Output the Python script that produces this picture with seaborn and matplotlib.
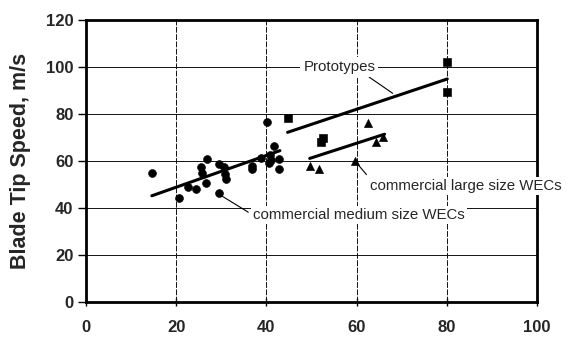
import matplotlib
matplotlib.use("Agg")
import matplotlib.pyplot as plt
import seaborn as sns
import pandas as pd

# Commercial medium size WECs (circles)
med_x = [14.6, 20.6, 22.6, 24.3, 25.6, 25.8, 26.6, 26.8, 29.4, 29.5, 30.7, 30.8, 31.1,
         36.7, 36.8, 38.7, 40.1, 40.9, 41.1, 40.5, 41.7, 42.7, 42.7]
med_y = [55.0, 44.1, 48.8, 48.0, 57.3, 55.0, 50.8, 60.9, 46.3, 58.6, 57.3, 54.3, 52.5,
         57.9, 56.5, 61.4, 76.5, 62.6, 60.4, 59.0, 66.4, 60.9, 56.5]
# Prototypes (squares)
proto_x = [44.7, 52.5, 52.1, 80.1, 80.1]
proto_y = [78.2, 70.0, 68.0, 102.3, 89.5]
# Commercial large size WECs (triangles)
large_x = [49.6, 51.6, 59.7, 62.5, 65.8, 64.3]
large_y = [57.9, 56.5, 60.1, 76.0, 70.3, 68.2]

# Trend lines (end points)
med_fit_x = [14.6, 43.0]
med_fit_y = [45.2, 64.4]
proto_fit_x = [44.7, 80.1]
proto_fit_y = [72.2, 94.9]
large_fit_x = [49.6, 66.2]
large_fit_y = [61.1, 71.4]

x_ticks = [0, 20, 40, 60, 80, 100]
y_ticks = [0, 20, 40, 60, 80, 100, 120]
y_label = "Blade Tip Speed, m/s"

sns.set_theme(style="white")
plt.rcParams['font.family'] = ['Liberation Sans', 'DejaVu Sans']

fig = plt.figure(figsize=(5.67, 3.38), dpi=100)
ax = fig.add_axes([86/567, 1-302/338, (537-86)/567, (302-20)/338])

for v in [20, 40, 60, 80, 100]:
    ax.axhline(v, color='#111111', lw=0.7, zorder=1)
for v in [20, 40, 60, 80]:
    ax.axvline(v, color='#111111', lw=0.7, ls=(0, (6, 1.5)), zorder=1)

df_med = pd.DataFrame({'x': med_x, 'y': med_y})
df_pro = pd.DataFrame({'x': proto_x, 'y': proto_y})
df_lar = pd.DataFrame({'x': large_x, 'y': large_y})
sns.scatterplot(data=df_med, x='x', y='y', marker='o', s=32, color='black', edgecolor='black', ax=ax, zorder=3)
sns.scatterplot(data=df_pro, x='x', y='y', marker='s', s=30, color='black', edgecolor='black', ax=ax, zorder=3)
sns.scatterplot(data=df_lar, x='x', y='y', marker='^', s=34, color='black', edgecolor='black', ax=ax, zorder=3)

sns.lineplot(x=med_fit_x, y=med_fit_y, color='black', lw=2.2, ax=ax, zorder=2)
sns.lineplot(x=proto_fit_x, y=proto_fit_y, color='black', lw=2.2, ax=ax, zorder=2)
sns.lineplot(x=large_fit_x, y=large_fit_y, color='black', lw=2.2, ax=ax, zorder=2)

# Annotations
fs = 10.8
ax.annotate("Prototypes", xy=(68, 88.8), xytext=(56.2, 100), fontsize=fs,
            ha='center', va='center',
            bbox=dict(boxstyle='square,pad=0.2', fc='white', ec='none'),
            arrowprops=dict(arrowstyle='-', color='black', lw=0.8, shrinkA=0, shrinkB=0,
                            relpos=(0.85, 0.0)), zorder=4, annotation_clip=False)
ax.annotate("commercial large size WECs", xy=(60.3, 58.5), xytext=(63.0, 49.4), fontsize=fs,
            ha='left', va='center',
            bbox=dict(boxstyle='square,pad=0.15', fc='white', ec='none'),
            arrowprops=dict(arrowstyle='-', color='black', lw=0.8, shrinkA=2, shrinkB=0,
                            relpos=(0.0, 1.0)), zorder=4, annotation_clip=False)
ax.annotate("commercial medium size WECs", xy=(29.8, 45.5), xytext=(37.0, 37.0), fontsize=fs,
            ha='left', va='center',
            bbox=dict(boxstyle='square,pad=0.15', fc='white', ec='none'),
            arrowprops=dict(arrowstyle='-', color='black', lw=0.8, shrinkA=2, shrinkB=0,
                            relpos=(0.0, 0.5)), zorder=4, annotation_clip=False)

ax.set_xlim(0, 100)
ax.set_ylim(0, 120)
ax.set_xticks(x_ticks)
ax.set_yticks(y_ticks)
ax.set_xticklabels([str(t) for t in x_ticks], fontsize=12, fontweight='bold')
ax.set_yticklabels([str(t) for t in y_ticks], fontsize=12, fontweight='bold')
ax.set_xlabel("")
ax.set_ylabel(y_label, fontsize=15.5, fontweight='bold')
ax.yaxis.set_label_coords((31 - 86) / 451, 0.5)
ax.tick_params(axis='y', direction='out', length=6, width=1, color='black', pad=3)
ax.tick_params(axis='x', direction='inout', length=6, width=1, color='black', pad=10)
ax.xaxis.set_ticks_position('bottom')
ax.yaxis.set_ticks_position('left')
for sp in ax.spines.values():
    sp.set_visible(True)
    sp.set_color('black')
    sp.set_linewidth(2)
ax.grid(False)

fig.savefig("out.png", dpi=100)
